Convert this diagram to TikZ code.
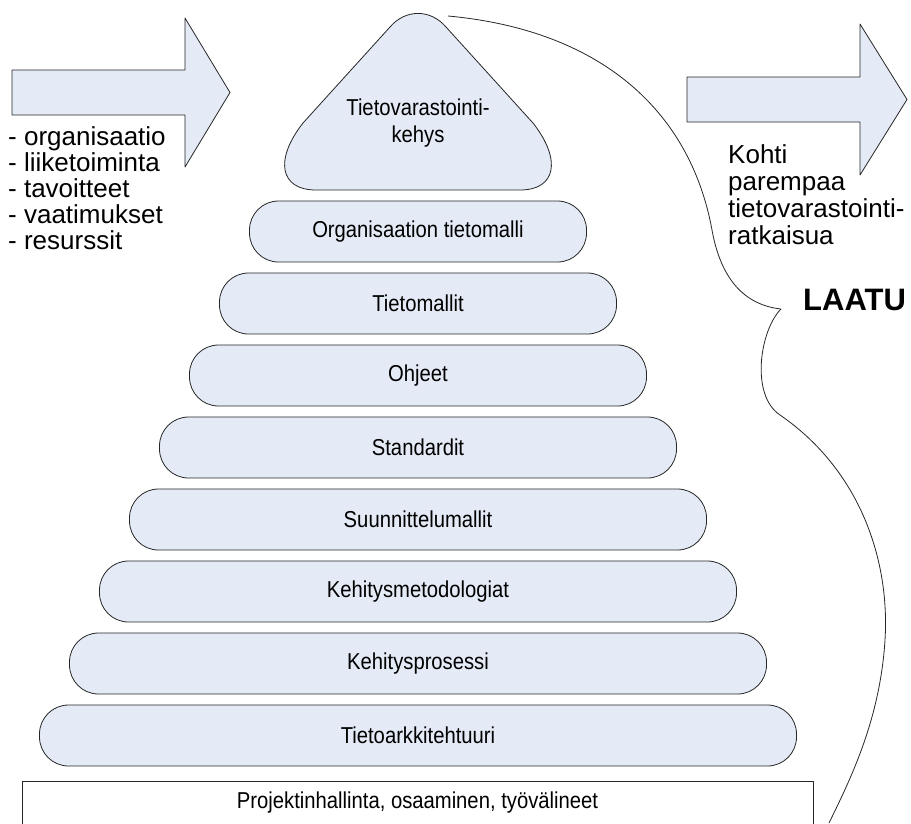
\documentclass[tikz,border=0pt]{standalone}
\usepackage{fontspec}
\setmainfont{Liberation Sans}
\newfontfamily\narrowsans{Liberation Sans}[FakeStretch=0.88]
\usepackage{xcolor}
\usepackage{tikz}
\definecolor{ink}{HTML}{262626}
\definecolor{pale}{HTML}{E4EBF6}
\tikzset{
  base/.style={draw=ink, line width=0.8pt, line join=round},
  bar/.style={base, fill=pale, rounded corners=29pt, minimum height=61pt, inner sep=0pt, font=\narrowsans\fontsize{23}{25}\selectfont},
  arr/.style={base, fill=pale},
  lab/.style={font=\narrowsans\fontsize{23}{27}\selectfont, inner sep=0pt},
  big/.style={font=\fontsize{26}{26}\selectfont, inner sep=0pt, align=left},
  boldlab/.style={font=\fontsize{31}{31}\selectfont\bfseries, inner sep=0pt},
}

\begin{document}
\begin{tikzpicture}[x=1pt, y=-1pt]
  \useasboundingbox (0,0) rectangle (911,823);
  \def\cx{418}

  % nuolet
  \draw[arr] (12,70) -- (185,70) -- (185,18) -- (230,92.5) -- (185,167) -- (185,115) -- (12,115) -- cycle;
  \draw[arr] (687,77) -- (860,77) -- (860,24) -- (907,99.5) -- (860,175) -- (860,122) -- (687,122) -- cycle;
  \node[big, anchor=west] (tekijat) at (8,188.5) {- organisaatio\\- liiketoiminta\\- tavoitteet\\- vaatimukset\\- resurssit};
  \node[big, anchor=west, font=\fontsize{26}{27}\selectfont] (kohti) at (728,195) {Kohti\\parempaa\\tietovarastointi-\\ratkaisua};

  % kolmio
  \draw[base, fill=pale] (316,190) -- (520,190) .. controls (556,190) and (562,160) .. (533,123)
    -- (446,27) .. controls (430.6,8.9) and (405.4,8.9) .. (390,27)
    -- (303,123) .. controls (274,160) and (280,190) .. (316,190) -- cycle;
  \node[lab, align=center] (kehys) at (\cx,123.5) {Tietovarastointi-\\kehys};

  % palkit
  \node[bar, minimum width=337pt] (orgmalli) at (\cx,231.5) {Organisaation tietomalli};
  \node[bar, minimum width=397pt] (tietomallit) at (\cx,303.5) {Tietomallit};
  \node[bar, minimum width=457pt] (ohjeet) at (\cx,375.5) {Ohjeet};
  \node[bar, minimum width=517pt] (standardit) at (\cx,447.5) {Standardit};
  \node[bar, minimum width=577pt] (suunnittelu) at (\cx,519.5) {Suunnittelumallit};
  \node[bar, minimum width=637pt] (metodologiat) at (\cx,591.5) {Kehitysmetodologiat};
  \node[bar, minimum width=697pt] (prosessi) at (\cx,663.5) {Kehitysprosessi};
  \node[bar, minimum width=757pt] (arkkitehtuuri) at (\cx,735.5) {Tietoarkkitehtuuri};
  \node[base, lab, minimum width=791pt, minimum height=43pt] (pohja) at (417.5,803) {Projektinhallinta, osaaminen, työvälineet};

  % laatu
  \coordinate (karki) at (781,309);
  \node[boldlab, anchor=west] (laatu) at (803,300) {LAATU};
  \draw[base] (448,16) .. controls (600,30) and (690,110) .. (712,230)
    .. controls (721,280) and (745,305) .. (karki)
    .. controls (760,330) and (750,395) .. (780,415)
    .. controls (860,470) and (890,560) .. (885,640)
    .. controls (880,720) and (850,780) .. (829,823);
\end{tikzpicture}
\end{document}
